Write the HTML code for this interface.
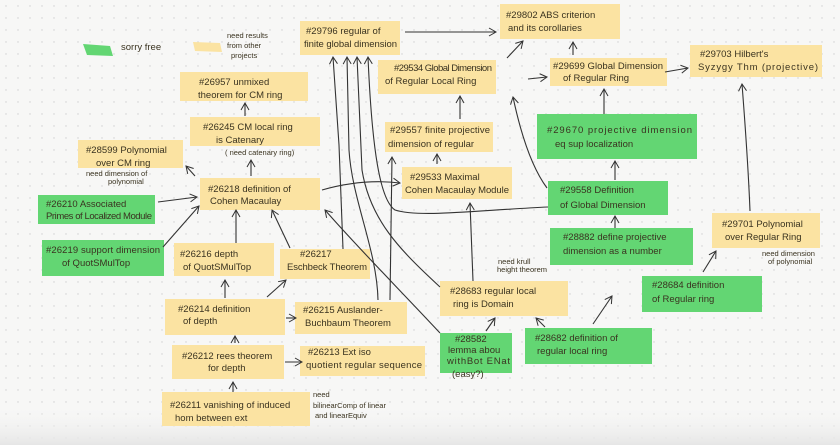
<!DOCTYPE html>
<html><head><meta charset="utf-8"><style>
html,body{margin:0;padding:0;width:840px;height:445px;overflow:hidden;background:#f7f7f6}
svg{display:block}
text{font-family:"Liberation Sans",sans-serif;font-size:9.5px;fill:#3a3320}
.s{font-size:7.5px}
</style></head><body>
<svg width="840" height="445" viewBox="0 0 840 445" xmlns="http://www.w3.org/2000/svg">
<defs>
<pattern id="d" width="12" height="12" patternUnits="userSpaceOnUse"><circle cx="6" cy="6" r="0.7" fill="#cfcfcf"/></pattern>
<linearGradient id="g" x1="0" y1="0" x2="0" y2="1"><stop offset="0" stop-color="#f7f7f6" stop-opacity="0"/><stop offset="1" stop-color="#e6e6e6"/></linearGradient>
<marker id="a" markerWidth="10" markerHeight="10" refX="8" refY="5" orient="auto" markerUnits="userSpaceOnUse"><path d="M1,1 L8,5 L1,9" fill="none" stroke="#333" stroke-width="1"/></marker>
</defs>
<rect width="840" height="445" fill="url(#d)"/>
<rect y="405" width="840" height="40" fill="url(#g)"/>
<g fill="#fbe3a2">
<path d="M193,42 L220,43 L222,52 L195,51Z"/>
<rect x="300" y="21" width="100" height="34"/>
<rect x="500" y="4" width="120" height="35"/>
<rect x="378" y="60" width="118" height="34"/>
<rect x="550" y="58" width="117" height="28"/>
<rect x="690" y="45" width="132" height="32"/>
<rect x="180" y="72" width="128" height="29"/>
<rect x="190" y="117" width="130" height="29"/>
<rect x="78" y="140" width="105" height="28"/>
<rect x="385" y="122" width="108" height="30"/>
<rect x="200" y="178" width="120" height="32"/>
<rect x="402" y="167" width="110" height="32"/>
<rect x="712" y="213" width="108" height="35"/>
<rect x="174" y="243" width="100" height="33"/>
<rect x="280" y="249" width="90" height="30"/>
<rect x="440" y="281" width="128" height="35"/>
<rect x="165" y="299" width="120" height="36"/>
<rect x="295" y="302" width="112" height="32"/>
<rect x="172" y="345" width="112" height="34"/>
<rect x="300" y="346" width="125" height="30"/>
<rect x="162" y="392" width="148" height="34"/>
</g>
<g fill="#63d673">
<path d="M83,44 L110,46 L113,56 L87,55Z"/>
<rect x="537" y="114" width="160" height="45"/>
<rect x="548" y="181" width="120" height="34"/>
<rect x="38" y="195" width="117" height="29"/>
<rect x="42" y="240" width="122" height="36"/>
<rect x="550" y="228" width="143" height="37"/>
<rect x="642" y="276" width="120" height="36"/>
<rect x="440" y="333" width="72" height="40"/>
<rect x="525" y="328" width="127" height="36"/>
</g>
<g fill="none" stroke="#333" stroke-width="1.1" marker-end="url(#a)">
<path d="M405,32 L496,32"/>
<path d="M507,58 L523,41"/>
<path d="M528,79 L547,77"/>
<path d="M573,55 L573,42"/>
<path d="M665,72 L688,68"/>
<path d="M460,119 L460,96"/>
<path d="M437,164 L437,154"/>
<path d="M604,114 L604,89"/>
<path d="M615,180 L615,161"/>
<path d="M615,228 L615,216"/>
<path d="M547,188 C530,165 520,130 513,97"/>
<path d="M750,211 C748,160 744,110 742,84"/>
<path d="M703,272 L716,251"/>
<path d="M593,324 L612,296"/>
<path d="M545,327 L536,318"/>
<path d="M486,331 L495,318"/>
<path d="M473,281 L470,203"/>
<path d="M440,333 C400,290 360,250 325,210"/>
<path d="M322,190 C350,182 375,180 400,183"/>
<path d="M158,202 L197,197"/>
<path d="M163,247 L199,206"/>
<path d="M195,176 L186,166"/>
<path d="M251,176 L251,160"/>
<path d="M245,116 L245,103"/>
<path d="M236,243 L236,210"/>
<path d="M290,248 L272,210"/>
<path d="M225,298 L225,280"/>
<path d="M267,297 L286,280"/>
<path d="M286,318 L296,318"/>
<path d="M235,343 L235,336"/>
<path d="M285,362 L302,362"/>
<path d="M233,392 L233,382"/>
<path d="M343,249 L339,145 L333,57"/>
<path d="M378,300 C377,250 352,200 349,150 L347,57"/>
<path d="M440,287 C400,250 370,220 362,170 L357,57"/>
<path d="M548,207 C480,210 420,218 395,210 C380,200 372,150 368,57"/>
<path d="M390,300 L392,157"/>
</g>
<text x="121" y="50">sorry free</text>
<text class="s" x="227" y="38">need results</text>
<text class="s" x="227" y="48">from other</text>
<text class="s" x="231" y="58">projects</text>
<text x="306" y="34">#29796 regular of</text><text x="304" y="47" textLength="93">finite global dimension</text>
<text x="506" y="18">#29802 ABS criterion</text><text x="508" y="31">and its corollaries</text>
<text x="394" y="71" textLength="98">#29534 Global Dimension</text><text x="385" y="84">of Regular Local Ring</text>
<text x="553" y="69" textLength="110">#29699 Global Dimension</text><text x="563" y="81">of Regular Ring</text>
<text x="700" y="57">#29703 Hilbert's</text><text x="698" y="70" textLength="120">Syzygy Thm (projective)</text>
<text x="199" y="85">#26957 unmixed</text><text x="198" y="98">theorem for CM ring</text>
<text x="203" y="130">#26245 CM local ring</text><text x="216" y="143">is Catenary</text>
<text class="s" x="225" y="155">( need catenary ring)</text>
<text x="86" y="153">#28599 Polynomial</text><text x="96" y="166">over CM ring</text>
<text class="s" x="86" y="176">need dimension of</text><text class="s" x="108" y="184">polynomial</text>
<text x="390" y="133" textLength="100">#29557 finite projective</text><text x="388" y="147">dimension of regular</text>
<text x="547" y="133" textLength="145">#29670 projective dimension</text><text x="555" y="147">eq sup localization</text>
<text x="208" y="192">#26218 definition of</text><text x="210" y="204">Cohen Macaulay</text>
<text x="410" y="180">#29533 Maximal</text><text x="405" y="193" textLength="104">Cohen Macaulay Module</text>
<text x="560" y="193">#29558 Definition</text><text x="560" y="208">of Global Dimension</text>
<text x="46" y="207">#26210 Associated</text><text x="46" y="219" textLength="106">Primes of Localized Module</text>
<text x="46" y="253" textLength="114">#26219 support dimension</text><text x="62" y="266">of QuotSMulTop</text>
<text x="563" y="240">#28882 define projective</text><text x="563" y="254">dimension as a number</text>
<text x="722" y="227">#29701 Polynomial</text><text x="725" y="240">over Regular Ring</text>
<text class="s" x="762" y="256">need dimension</text><text class="s" x="768" y="264">of polynomial</text>
<text x="180" y="257">#26216 depth</text><text x="183" y="270">of QuotSMulTop</text>
<text x="300" y="257">#26217</text><text x="287" y="270" textLength="80">Eschbeck Theorem</text>
<text class="s" x="498" y="264">need krull</text><text class="s" x="497" y="272">height theorem</text>
<text x="450" y="294">#28683 regular local</text><text x="453" y="307">ring is Domain</text>
<text x="652" y="288">#28684 definition</text><text x="652" y="302">of Regular ring</text>
<text x="178" y="312">#26214 definition</text><text x="183" y="324">of depth</text>
<text x="303" y="313">#26215 Auslander-</text><text x="305" y="326">Buchbaum Theorem</text>
<text x="455" y="342">#28582</text><text x="448" y="353">lemma abou</text><text x="447" y="364" textLength="63">withBot ENat</text><text x="452" y="377">(easy?)</text>
<text x="535" y="341">#28682 definition of</text><text x="537" y="354">regular local ring</text>
<text x="182" y="359">#26212 rees theorem</text><text x="208" y="371">for depth</text>
<text x="308" y="355">#26213 Ext iso</text><text x="306" y="368" textLength="116">quotient regular sequence</text>
<text x="170" y="408">#26211 vanishing of induced</text><text x="175" y="421">hom between ext</text>
<text class="s" x="313" y="397">need</text><text class="s" x="313" y="408">bilinearComp of linear</text><text class="s" x="315" y="418">and linearEquiv</text>
</svg>
</body></html>
